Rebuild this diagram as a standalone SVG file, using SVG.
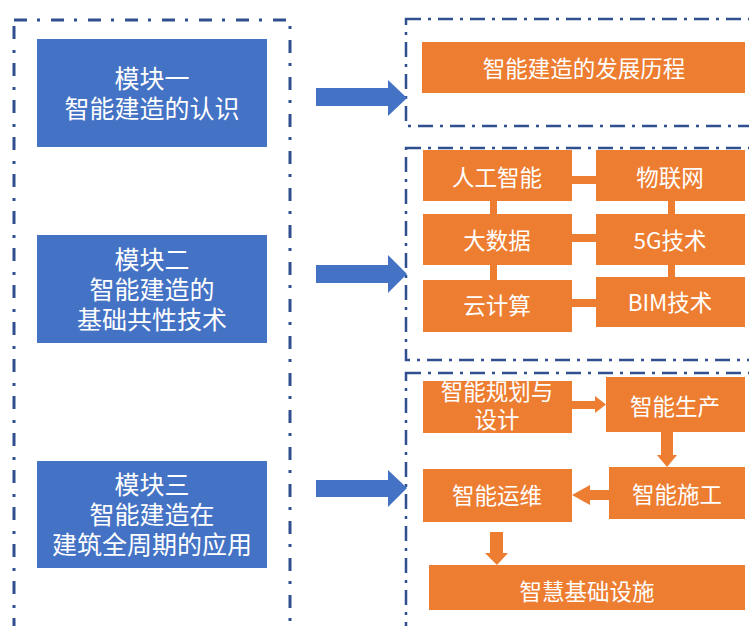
<svg xmlns="http://www.w3.org/2000/svg" width="749" height="626" viewBox="0 0 749 626">
<style>
.bg{fill:#ffffff}
.frameL{fill:none;stroke:#2F4F8F;stroke-width:3;stroke-dasharray:13 10 3 11}
.frameR{fill:none;stroke:#2F4F8F;stroke-width:2.5;stroke-dasharray:15 7 3 7}
.blue{fill:#4472C4}
.orange{fill:#ED7D31}
.t{font-family:"Noto Sans CJK SC","Noto Sans",sans-serif;fill:#ffffff;text-anchor:middle;dominant-baseline:central}
.tb{font-family:"Liberation Sans","Noto Sans CJK SC",sans-serif;font-size:25px}
.to{font-size:22.5px}
.tm{font-family:"Liberation Sans","Noto Sans CJK SC",sans-serif}
</style>
<rect class="bg" x="0" y="0" width="749" height="626"/>
<g id="frames">
<rect class="frameL" x="14" y="20" width="276" height="640"/>
<rect class="frameR" x="406" y="19" width="360" height="107"/>
<rect class="frameR" x="406" y="148" width="360" height="212"/>
<rect class="frameR" x="406" y="373" width="360" height="300"/>
</g>
<g id="connectors">
<polygon class="blue" points="316,88 388,88 388,80 407,98 388,116 388,106 316,106"/>
<polygon class="blue" points="316,265 388,265 388,255 407,274 388,293 388,283 316,283"/>
<polygon class="blue" points="316,480 388,480 388,470 407,488 388,507 388,497 316,497"/>
<rect class="orange" x="572" y="176" width="24" height="8"/>
<rect class="orange" x="572" y="234" width="24" height="8"/>
<rect class="orange" x="572" y="299" width="24" height="8"/>
<rect class="orange" x="490" y="201" width="7" height="13"/>
<rect class="orange" x="490" y="265" width="7" height="15"/>
<rect class="orange" x="668" y="201" width="7" height="13"/>
<rect class="orange" x="668" y="265" width="7" height="12"/>
<polygon class="orange" points="572,401 595,401 595,396 606,404.5 595,413 595,409 572,409"/>
<polygon class="orange" points="661,432 673,432 673,455 677,455 667,467 657,455 661,455"/>
<polygon class="orange" points="609,490 590,490 590,485 572,495 590,505 590,500 609,500"/>
<polygon class="orange" points="490,532 503,532 503,553 508,553 497,565 485,553 490,553"/>
</g>
<g id="m1"><rect class="blue" x="37" y="39" width="230" height="108"/>
<text class="t tb" x="152" y="79">模块一<tspan x="152" dy="30">智能建造的认识</tspan></text></g>
<g id="m2"><rect class="blue" x="37" y="235" width="230" height="108"/>
<text class="t tb" x="152" y="260">模块二<tspan x="152" dy="30">智能建造的</tspan><tspan x="152" dy="30">基础共性技术</tspan></text></g>
<g id="m3"><rect class="blue" x="37" y="461" width="230" height="107"/>
<text class="t tb" x="152" y="485">模块三<tspan x="152" dy="30">智能建造在</tspan><tspan x="152" dy="30">建筑全周期的应用</tspan></text></g>
<g id="n-history"><rect class="orange" x="422" y="42" width="323" height="51"/><text class="t to" x="584" y="67">智能建造的发展历程</text></g>
<g id="n-ai"><rect class="orange" x="423" y="150" width="149" height="51"/><text class="t to" x="497" y="176">人工智能</text></g>
<g id="n-iot"><rect class="orange" x="596" y="150" width="149" height="51"/><text class="t to" x="670" y="176">物联网</text></g>
<g id="n-bigdata"><rect class="orange" x="423" y="214" width="149" height="51"/><text class="t to" x="497" y="239">大数据</text></g>
<g id="n-5g"><rect class="orange" x="596" y="214" width="149" height="51"/><text class="t to" x="670" y="239">5G技术</text></g>
<g id="n-cloud"><rect class="orange" x="423" y="280" width="149" height="52"/><text class="t to" x="497" y="304">云计算</text></g>
<g id="n-bim"><rect class="orange" x="596" y="277" width="149" height="50"/><text class="t to" x="670" y="301">BIM技术</text></g>
<g id="n-plan"><rect class="orange" x="423" y="381" width="149" height="52"/><text class="t to tm" x="497" y="392">智能规划与<tspan x="497" dy="28">设计</tspan></text></g>
<g id="n-prod"><rect class="orange" x="606" y="377" width="139" height="55"/><text class="t to" x="675" y="405">智能生产</text></g>
<g id="n-build"><rect class="orange" x="609" y="467" width="136" height="52"/><text class="t to" x="677" y="493">智能施工</text></g>
<g id="n-om"><rect class="orange" x="423" y="469" width="149" height="53"/><text class="t to" x="497" y="494">智能运维</text></g>
<g id="n-infra"><rect class="orange" x="429" y="565" width="316" height="45"/><text class="t to" x="587" y="590">智慧基础设施</text></g>
</svg>
